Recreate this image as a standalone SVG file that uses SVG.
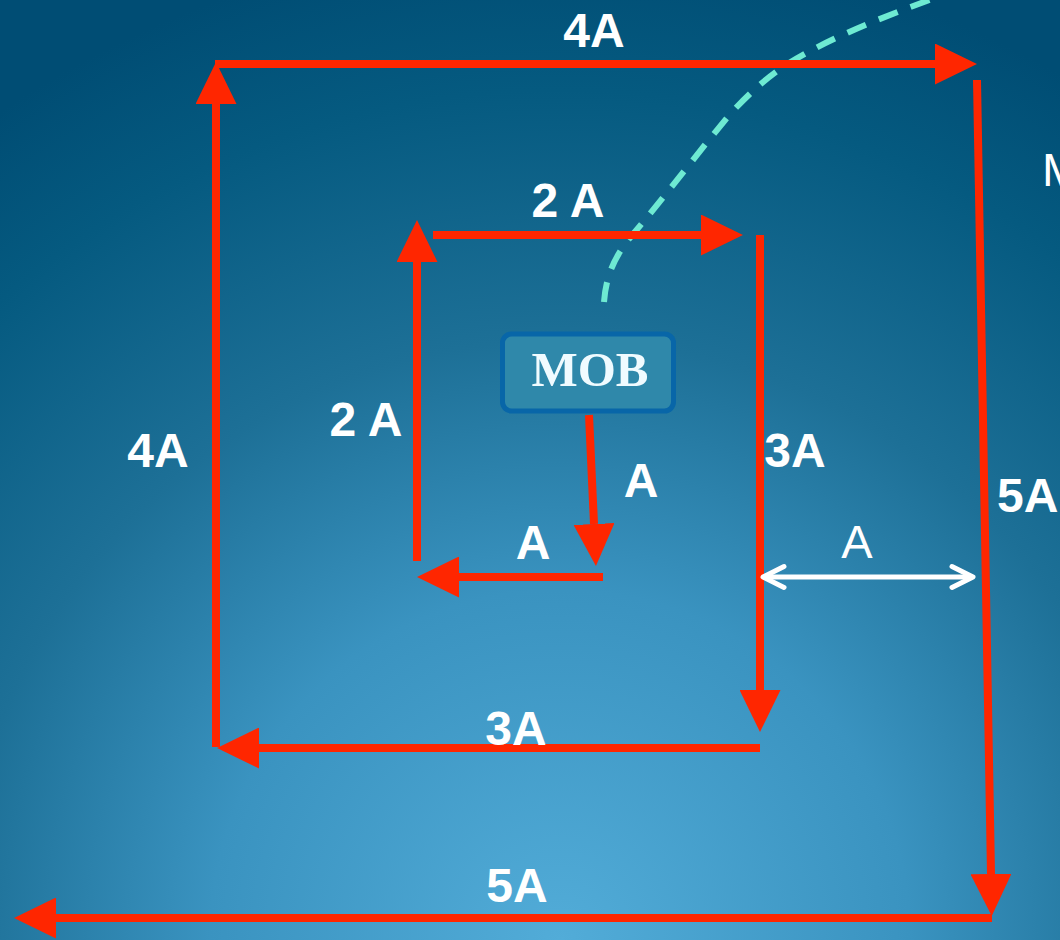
<svg xmlns="http://www.w3.org/2000/svg" width="1060" height="940" viewBox="0 0 1060 940">
  <defs>
    <radialGradient id="bg" gradientUnits="userSpaceOnUse" cx="560" cy="940" r="1000">
      <stop offset="0" stop-color="#52acd8"/>
      <stop offset="0.35" stop-color="#3a93c0"/>
      <stop offset="0.6" stop-color="#1d7097"/>
      <stop offset="0.85" stop-color="#055a80"/>
      <stop offset="1" stop-color="#004d74"/>
    </radialGradient>
    <marker id="head" markerUnits="userSpaceOnUse" markerWidth="42" markerHeight="41" refX="0" refY="20.5" orient="auto" viewBox="0 0 42 41">
      <path d="M0,0 L42,20.5 L0,41 Z" fill="#ff2600"/>
    </marker>
    <marker id="chev" markerUnits="userSpaceOnUse" markerWidth="30" markerHeight="30" refX="24" refY="15" orient="auto-start-reverse" viewBox="0 0 30 30">
      <path d="M3,4.5 L24,15 L3,25.5" fill="none" stroke="#ffffff" stroke-width="5" stroke-linecap="round" stroke-linejoin="round"/>
    </marker>
  </defs>
  <style>
    .red { fill: none; stroke: #ff2600; stroke-width: 8; marker-end: url(#head); }
    .lbl { font-family: "Liberation Sans", Arial, sans-serif; font-weight: bold; font-size: 48px; fill: #ffffff; }
    .reg { font-family: "Liberation Sans", Arial, sans-serif; font-size: 47px; fill: #ffffff; }
  </style>
  <rect x="0" y="0" width="1060" height="940" fill="url(#bg)"/>

  <g id="connectors">
    <path id="dashed-track" d="M604,302 C606,275 615,255 634,233 C670,190 700,150 731,113 C757,85 775,72 789,63 C830,38 880,18 935,-2" fill="none" stroke="#6eead2" stroke-width="6" stroke-dasharray="20 14"/>
    <path class="red" d="M589,415 L594,524"/>
    <path class="red" d="M603,577 L459,577"/>
    <path class="red" d="M417,561 L417,262"/>
    <path class="red" d="M433,235 L701,235"/>
    <path class="red" d="M760,235 L760,690"/>
    <path class="red" d="M760,748 L259,748"/>
    <path class="red" d="M216,747 L216,104"/>
    <path class="red" d="M215,64 L935,64"/>
    <path class="red" d="M977,80 L991,874"/>
    <path class="red" d="M992,918 L56,918"/>
    <path d="M763,577 L973,577" fill="none" stroke="#ffffff" stroke-width="5" marker-start="url(#chev)" marker-end="url(#chev)"/>
  </g>

  <g id="mob">
    <rect x="502.5" y="334" width="171" height="77" rx="9" ry="9" fill="#2f88aa" stroke="#0866a8" stroke-width="5"/>
    <text x="590" y="386" text-anchor="middle" font-family="'Liberation Serif', 'Times New Roman', serif" font-weight="bold" font-size="49" fill="#f0fbff">MOB</text>
  </g>

  <g id="labels">
    <text class="lbl" x="594" y="47" text-anchor="middle">4A</text>
    <text class="lbl" x="568" y="217" text-anchor="middle">2 A</text>
    <text class="lbl" x="366" y="436" text-anchor="middle">2 A</text>
    <text class="lbl" x="158" y="467" text-anchor="middle">4A</text>
    <text class="lbl" x="641" y="497" text-anchor="middle">A</text>
    <text class="lbl" x="533" y="559" text-anchor="middle">A</text>
    <text class="lbl" x="795" y="467" text-anchor="middle">3A</text>
    <text class="lbl" x="997" y="512">5A</text>
    <text class="lbl" x="516" y="745" text-anchor="middle">3A</text>
    <text class="lbl" x="517" y="902" text-anchor="middle">5A</text>
    <text class="reg" x="857" y="558" text-anchor="middle">A</text>
    <text class="reg" x="1042" y="186" font-size="50">M</text>
  </g>
</svg>
